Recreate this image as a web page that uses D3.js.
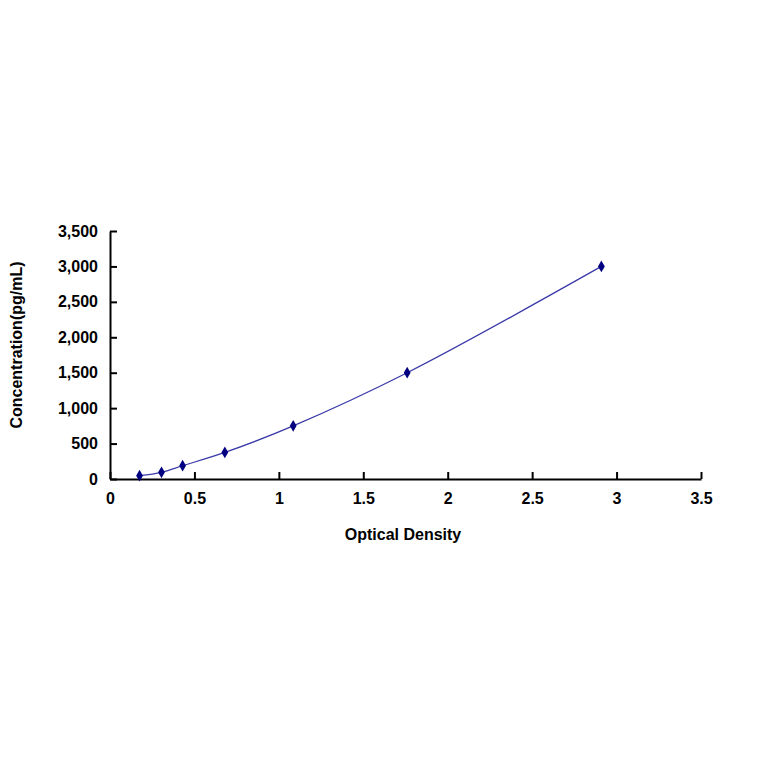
<!DOCTYPE html>
<html><head><meta charset="utf-8">
<script src="https://cdn.jsdelivr.net/npm/d3@7"></script>
<style>body{margin:0;background:#fff}</style>
</head><body>
<svg id="chart" width="764" height="764"></svg>
<script>
// standard curve readings
var od = [0.175, 0.305, 0.43, 0.68, 1.085, 1.76, 2.91];
var conc = [47, 94, 188, 375, 750, 1500, 3000];
var xTicks = [0, 0.5, 1, 1.5, 2, 2.5, 3, 3.5];
var yTicks = [0, 500, 1000, 1500, 2000, 2500, 3000, 3500];

var svg = d3.select("#chart");
var x = d3.scaleLinear().domain([0, 3.5]).range([110, 701]);
var y = d3.scaleLinear().domain([0, 3500]).range([479, 231]);
var font = "Arial, 'Liberation Sans', sans-serif";

var xa = svg.append("g").attr("transform", "translate(0,479)")
  .call(d3.axisBottom(x).tickValues(xTicks).tickSizeInner(-7).tickSizeOuter(0).tickPadding(14).tickFormat(d3.format("")));
var ya = svg.append("g").attr("transform", "translate(110,0)")
  .call(d3.axisLeft(y).tickValues(yTicks).tickSizeInner(-7).tickSizeOuter(0).tickPadding(12));
[xa, ya].forEach(function(a) {
  a.select(".domain").attr("stroke", "#000").attr("stroke-width", 2);
  a.selectAll(".tick line").attr("stroke", "#000").attr("stroke-width", 2);
  a.selectAll("text").attr("font-family", font).attr("font-size", 16).attr("font-weight", "bold").attr("fill", "#000");
});

var pts = od.map(function(d, i) { return [d, conc[i]]; });
svg.append("path").datum(pts)
  .attr("fill", "none").attr("stroke", "#3a3aa8").attr("stroke-width", 1.3)
  .attr("d", d3.line().x(function(d) { return x(d[0]); }).y(function(d) { return y(d[1]); }).curve(d3.curveCatmullRom));

svg.selectAll(".pt").data(pts).enter().append("path")
  .attr("transform", function(d) { return "translate(" + x(d[0]) + "," + y(d[1]) + ")"; })
  .attr("d", d3.symbol(d3.symbolDiamond, 40)).attr("fill", "#000080");

svg.append("text").attr("x", 403).attr("y", 540).attr("text-anchor", "middle")
  .attr("font-family", font).attr("font-size", 16).attr("font-weight", "bold").text("Optical Density");
svg.append("text").attr("transform", "translate(22,345) rotate(-90)").attr("text-anchor", "middle")
  .attr("font-family", font).attr("font-size", 16).attr("font-weight", "bold").text("Concentration(pg/mL)");
</script>
</body></html>
